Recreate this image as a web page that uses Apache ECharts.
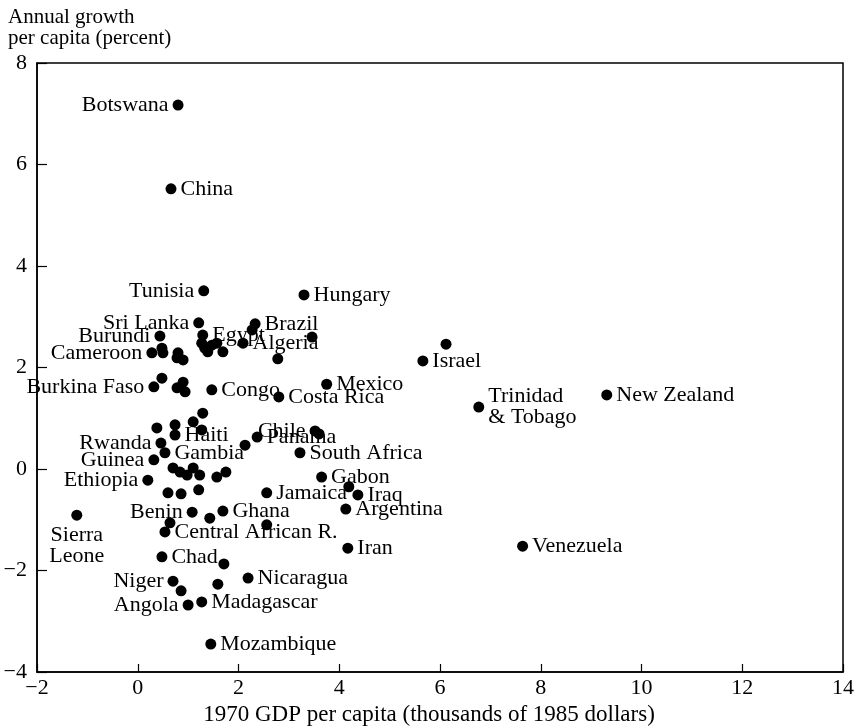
<!DOCTYPE html>
<html>
<head>
<meta charset="utf-8">
<script src="https://cdn.jsdelivr.net/npm/echarts@6/dist/echarts.min.js"></script>
<style>html,body{margin:0;padding:0;background:#fff}#c{width:858px;height:726px}</style>
</head>
<body>
<div id="c"></div>
<script>
// ---- data ----
const countries = ["Botswana","China","Tunisia","Hungary","Sri Lanka","Burundi","Egypt","","","","","","","Brazil","","Algeria","","","","Israel",
  "Cameroon","","","","","","Burkina Faso","","","","","Congo","Costa Rica","Mexico","Trinidad\n& Tobago","New Zealand","Venezuela",
  "","","","","","Haiti","Rwanda","Gambia","Guinea","Chile","","Panama","","South Africa",
  "","","","","","","","Ethiopia","Gabon","","","","Jamaica","","Iraq","Argentina","Iran",
  "Benin","","Ghana","","","Central African R.","Sierra\nLeone","Chad","","Niger","","","Nicaragua","Angola","Madagascar","Mozambique"];
const gdp1970 = [0.80,0.66,1.31,3.30,1.21,0.44,1.29,1.27,1.33,1.47,1.57,1.39,1.69,2.33,2.27,2.09,2.78,3.46,6.12,5.66,
  0.28,0.48,0.50,0.80,0.78,0.90,0.32,0.48,0.78,0.90,0.94,1.47,2.80,3.75,6.77,9.31,7.64,
  1.29,1.10,1.27,0.38,0.74,0.74,0.46,0.54,0.32,3.52,3.60,2.37,2.13,3.22,
  0.70,0.84,0.98,1.10,1.23,1.57,1.75,0.20,3.65,0.60,0.86,1.21,2.56,4.19,4.37,4.13,4.17,
  1.08,1.43,1.69,2.56,0.64,0.54,-1.21,0.48,1.71,0.70,0.86,1.59,2.19,1.00,1.27,1.45];
const growth = [7.17,5.52,3.51,3.43,2.88,2.62,2.64,2.48,2.38,2.44,2.48,2.31,2.31,2.86,2.74,2.48,2.17,2.60,2.46,2.13,
  2.29,2.38,2.29,2.29,2.19,2.15,1.62,1.79,1.60,1.71,1.52,1.56,1.42,1.67,1.22,1.46,-1.52,
  1.10,0.93,0.77,0.81,0.87,0.67,0.51,0.32,0.18,0.75,0.69,0.63,0.47,0.32,
  0.02,-0.06,-0.12,0.02,-0.12,-0.16,-0.06,-0.22,-0.16,-0.47,-0.49,-0.41,-0.47,-0.35,-0.51,-0.79,-1.56,
  -0.85,-0.97,-0.83,-1.10,-1.06,-1.24,-0.91,-1.73,-1.87,-2.21,-2.40,-2.27,-2.15,-2.68,-2.62,-3.45];
const xTicks = [-2,0,2,4,6,8,10,12,14];
const yTicks = [-4,-2,0,2,4,6,8];

// ---- label placement (style) ----
const place = {
  "Botswana":["left",0,0],"China":["right",0,0],"Tunisia":["left",0,0],"Hungary":["right",-2,2],
  "Sri Lanka":["left",-3,-1],"Burundi":["left",0,0],"Egypt":["right",-5,4],"Brazil":["right",0,1],
  "Algeria":["right",-5,8],"Israel":["right",0,0],"Cameroon":["left",6,9],"Burkina Faso":["left",12,11],
  "Congo":["right",-3,-10],"Costa Rica":["right",0,1],"Mexico":["right",-2,-5],"Trinidad\n& Tobago":["right",-2,10],
  "New Zealand":["right",0,-3],"Venezuela":["right",0,1],"Haiti":["right",-2,2],"Rwanda":["left",0,0],
  "Gambia":["right",0,2],"Guinea":["left",0,-2],"Chile":["left",6,-10],"Panama":["right",-2,1],
  "South Africa":["right",0,2],"Ethiopia":["left",0,0],"Gabon":["right",0,0],"Jamaica":["right",-2,1],
  "Iraq":["right",-3,1],"Argentina":["right",-2,3],"Iran":["right",0,2],"Benin":["left",0,-2],
  "Ghana":["right",-6,8],"Central African R.":["right",-2,4],"Sierra\nLeone":["bottom",-7,-8],"Chad":["right",-2,1],
  "Niger":["left",5,6],"Angola":["left",0,0],"Madagascar":["right",-2,1],"Nicaragua":["right",0,0],"Mozambique":["right",-2,2]
};

const FONT = "Liberation Serif";
const FS = 22;
const seriesData = countries.map((n,i)=>{
  const d = {name:n, value:[gdp1970[i], growth[i]]};
  if (n && place[n]) {
    const p = place[n];
    d.label = {show:true, position:p[0], offset:[p[1],p[2]], distance:4};
  }
  return d;
});

const chart = echarts.init(document.getElementById('c'), null, {renderer:'canvas'});
chart.setOption({
  animation:false,
  backgroundColor:'#fff',
  textStyle:{fontFamily:FONT, color:'#000'},
  grid:{left:37, right:15, top:63, bottom:54, show:true, borderColor:'#000', borderWidth:1.5,
    backgroundColor:'transparent', containLabel:false, outerBoundsMode:'none'},
  graphic:[{type:'text', left:8, top:7, style:{text:"Annual growth\nper capita (percent)", font:"21px '"+FONT+"'", fill:'#000', lineHeight:21}}],
  xAxis:{type:'value', min:-2, max:14, interval:2,
    axisLine:{onZero:false, lineStyle:{color:'#000', width:1.5}},
    axisTick:{inside:true, length:8, lineStyle:{color:'#000', width:1.2}},
    axisLabel:{color:'#000', fontFamily:FONT, fontSize:FS, margin:5,
      formatter:v=> xTicks.includes(v) ? String(v).replace('-','\u2212') : ''},
    splitLine:{show:false},
    name:"1970 GDP per capita (thousands of 1985 dollars)", nameLocation:'middle', nameGap:28,
    nameTextStyle:{color:'#000', fontFamily:FONT, fontSize:23, padding:[0,22,0,0]}},
  yAxis:{type:'value', min:-4, max:8, interval:2,
    axisLine:{onZero:false, lineStyle:{color:'#000', width:1.5}},
    axisTick:{inside:true, length:10, lineStyle:{color:'#000', width:1.2}},
    axisLabel:{color:'#000', fontFamily:FONT, fontSize:FS, margin:10,
      formatter:v=> yTicks.includes(v) ? String(v).replace('-','\u2212') : ''},
    splitLine:{show:false}},
  series:[{type:'scatter', symbol:'circle', symbolSize:11,
    itemStyle:{color:'#000', opacity:1},
    label:{show:false, color:'#000', fontFamily:FONT, fontSize:FS, lineHeight:21, formatter:p=>p.name},
    labelLayout:{hideOverlap:false},
    emphasis:{disabled:true},
    data:seriesData}]
});
</script>
</body>
</html>
